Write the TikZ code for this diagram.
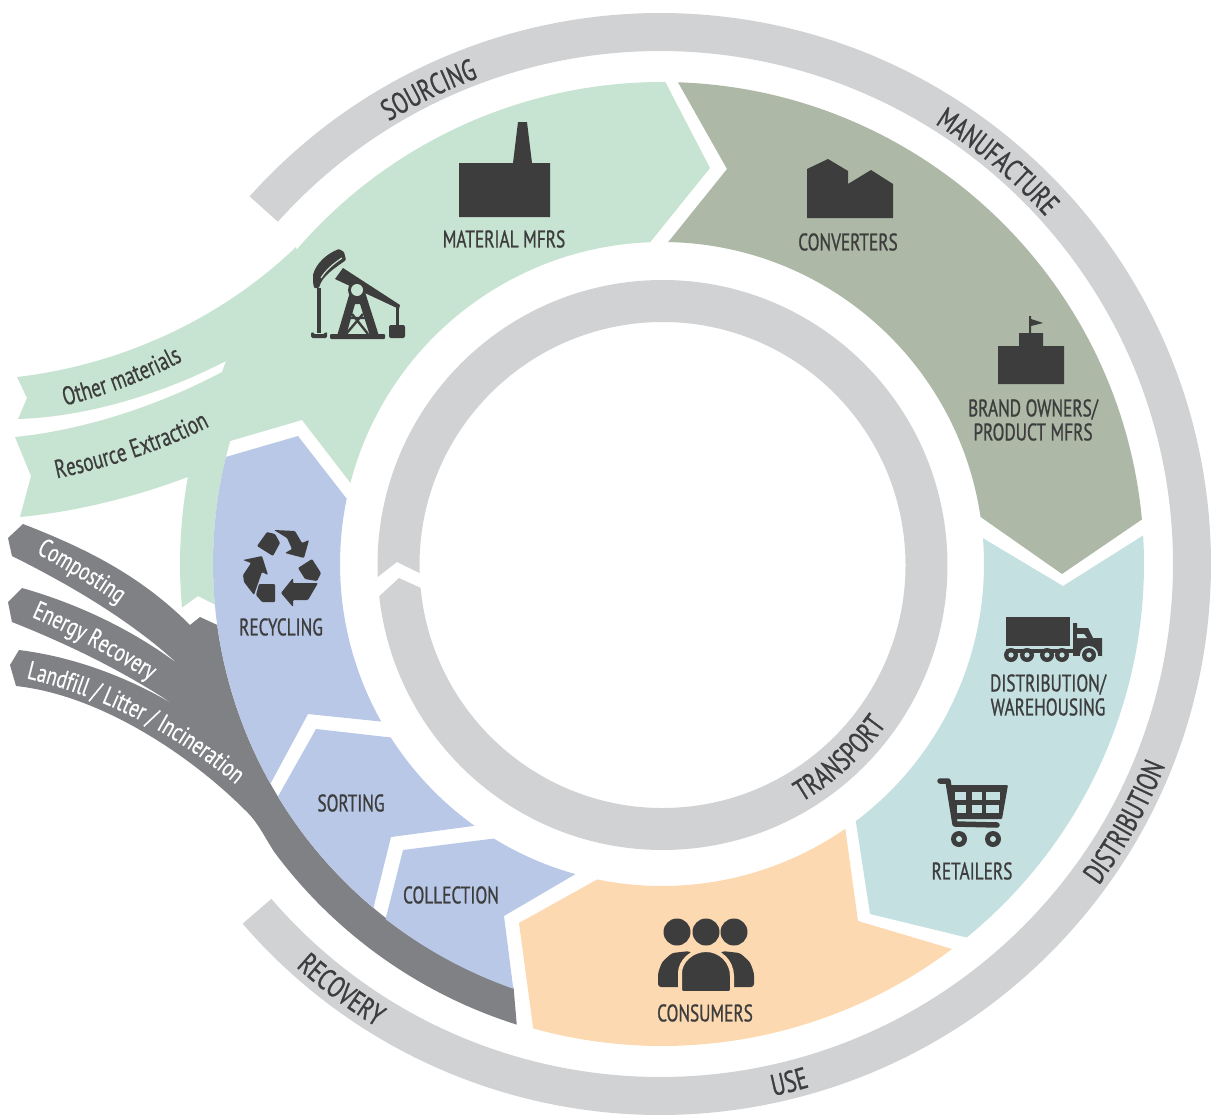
\documentclass[tikz,border=0pt]{standalone}
\usepackage{fontspec}
\usetikzlibrary{decorations.text}
\newfontfamily\dinf[FakeStretch=0.72,FakeBold=0.9]{PT Sans}
\newfontfamily\dint[FakeStretch=0.73,FakeBold=0.5]{PT Sans}
\newcommand{\lblfont}{\dinf\fontsize{24}{24}\selectfont}
\newcommand{\ringfont}{\dinf\fontsize{30}{30}\selectfont\color{ink}}
\newcommand{\tailfont}{\dint\fontsize{26}{26}\selectfont}
\def\cx{662}\def\cy{564}
\def\ARC#1#2#3{({\cx+#3*cos(#1)},{\cy-#3*sin(#1)}) arc[start angle=#1,end angle=#2,radius=#3pt]}
\def\LARC#1#2#3{-- ({\cx+#3*cos(#1)},{\cy-#3*sin(#1)}) arc[start angle=#1,end angle=#2,radius=#3pt]}
\definecolor{ink}{HTML}{3D3D3D}
\definecolor{lgreen}{HTML}{C7E3D2}
\definecolor{dgreen}{HTML}{ADB9A6}
\definecolor{teal2}{HTML}{C5E0E0}
\definecolor{peach}{HTML}{FDD9B1}
\definecolor{blue2}{HTML}{B8C8E6}
\definecolor{band}{HTML}{808184}
\definecolor{ring}{HTML}{D1D2D4}
\tikzset{
  lbl/.style={font=\lblfont,text=ink,inner sep=0pt,align=center},
  ico/.style={fill=ink,draw=none},
  curved/.style={decorate,decoration={text along path,text align=center,text={#1}}}
}
\begin{document}
\begin{tikzpicture}[x=1pt,y=-1pt]
\useasboundingbox (0,0) rectangle (1211,1116);
% rings
\begin{scope}
\def\cx{660}
\fill[ring] \ARC{138.15}{-139.25}{551} \LARC{-139.25}{138.15}{513} -- cycle;
\end{scope}
\begin{scope}
\def\cx{662.5}\def\cy{565}
\fill[ring] \ARC{182.4}{-173.7}{285} -- (399,578) \LARC{-174.6}{181.9}{243} -- (397,562) -- cycle;
\end{scope}
% light green
\fill[lgreen] \ARC{139.3}{89.6}{482} -- (710,168) \LARC{92.1}{165.4}{322} -- (302,420) \LARC{164.1}{185.2}{449} -- (198,596) \LARC{185.2}{169.6}{482}
  .. controls (135,497) and (75,512) .. (20,517) -- (31,476) -- (15,437)
  .. controls (85,430) and (160,405) .. (222,372) -- (226,361)
  .. controls (160,395) and (85,417) .. (18,419) -- (27,398) -- (17,377)
  .. controls (120,365) and (220,320) .. (296,247) -- cycle;
% dark green
\fill[dgreen] \ARC{88.1}{5.3}{482} -- (1062,574) \LARC{8.4}{88.9}{322} -- (727,169) -- cycle;
% teal
\fill[teal2] \ARC{3.4}{-50.8}{482} -- (870,914) \LARC{-53}{4.6}{322} -- (1063,586) -- cycle;
% peach
\fill[peach] \ARC{-53}{-105.5}{482} -- (519,923) \LARC{-101.6}{-55.3}{322} -- (858,921) -- cycle;
% grey band
\fill[band] \ARC{187.8}{250.7}{449} \LARC{252.5}{216.6}{483}
  .. controls (265,838) and (258,822) .. (245,810)
  .. controls (190,755) and (100,695) .. (16,686) -- (10,665) -- (19,650)
  .. controls (75,657) and (130,678) .. (176,706)
  .. controls (125,672) and (70,645) .. (12,622) -- (8,602) -- (22,588)
  .. controls (75,603) and (130,628) .. (178,664)
  .. controls (130,620) and (70,585) .. (12,556) -- (8,538) -- (23,524)
  .. controls (85,548) and (140,575) .. (190,625) -- (200,617) -- cycle;
% blue
\fill[blue2] (298,436) \LARC{166.2}{209.3}{449} -- (308,714) \LARC{209.3}{168.3}{322} -- cycle;
\fill[blue2] (316,729) \LARC{211.2}{230}{449} -- (391,837) \LARC{234.4}{212.6}{322} -- cycle;
\fill[blue2] (403,850) \LARC{232.1}{250.7}{450} -- (504,916) \LARC{254.4}{238.5}{322} -- cycle;
% factory
\fill[ico] (459,163) -- (513,163) -- (518,122) -- (527,122) -- (532,163) -- (550,163) -- (550,217) -- (459,217) -- cycle;
% converters
\fill[ico] (807,218) -- (807,169) -- (828,159) -- (848,171) -- (848,184) -- (871,170) -- (893,184) -- (893,218) -- cycle;
% brand owners
\fill[ico] (998,384) -- (998,346) -- (1019,346) -- (1019,333) -- (1029,333) -- (1029,316) -- (1031,316) -- (1031,319) -- (1043,323) -- (1031,326) -- (1031,333) -- (1043,333) -- (1043,346) -- (1064,346) -- (1064,384) -- cycle;
% truck
\fill[ico] (1006,617) rectangle (1070,646);
\fill[ico] (1006,649) rectangle (1075,653);
\fill[ico] (1073,651) -- (1073,623) -- (1077,623) -- (1077,628) -- (1088,628) -- (1093,638) -- (1102,638) -- (1102,657) -- (1073,657) -- cycle;
\fill[teal2] (1077,634) -- (1084,634) -- (1087,638) -- (1077,638) -- cycle;
\fill[teal2] (1089,655) circle[radius=9pt];
\fill[teal2] (1073,656) rectangle (1102,662);
\foreach \wx in {1011,1027,1047,1062,1089}{
  \fill[ico] (\wx,655) circle[radius=7pt];
  \fill[teal2] (\wx,655) circle[radius=2.6pt];
}
% cart
\draw[ink,line width=5.5pt,line cap=round,line join=round] (940,781) -- (948,781) -- (955,824) -- (997,825);
\fill[ico,rounded corners=1pt] (949,785) -- (1008,785) -- (1002,819) -- (953,819) -- cycle;
\fill[teal2] (955,792) rectangle (966,800);
\fill[teal2] (972,792) rectangle (982,800);
\fill[teal2] (986,792) rectangle (1000,800);
\fill[teal2] (957,805) rectangle (966,813);
\fill[teal2] (972,805) rectangle (982,813);
\fill[teal2] (986,805) rectangle (999,813);
\foreach \wx in {959,993}{
  \fill[ico] (\wx,839) circle[radius=8pt];
  \fill[teal2] (\wx,839) circle[radius=3pt];
}
% consumers
\foreach \hx in {677,706,734}{\fill[ico] (\hx,932) circle[radius=13.5pt];}
\fill[ico,rounded corners=3pt] (658,987) -- (658,973) -- (662,962) -- (672,953) -- (690,951) -- (700,965) -- (700,987) -- cycle;
\fill[ico,rounded corners=3pt] (754,987) -- (754,973) -- (750,962) -- (740,953) -- (722,951) -- (712,965) -- (712,987) -- cycle;
\filldraw[ink,draw=peach,line width=4pt] (680,976) arc[start angle=180,end angle=0,radius=26pt] [rounded corners=3pt] -- (732,993) -- (680,993) -- cycle;
% pumpjack
\fill[ico] (343,268) -- (400,305) -- (399,309) -- (335,279) -- cycle;
\fill[ico,rounded corners=1pt] (313,282) -- (313,275) .. controls (316,264) and (326,254) .. (339,249) -- (344,252) -- (346,260) .. controls (335,268) and (322,276) .. (319,288) -- (314,288) -- cycle;
\draw[lgreen,line width=1.2pt] (321,278) .. controls (326,270) and (333,264) .. (342,258);
\fill[ico] (317,288) rectangle (321,333);
\fill[ico,rounded corners=1.5pt] (311,332) -- (313,332) -- (313,334) -- (325,334) -- (325,332) -- (327,332) -- (327,338) -- (311,338) -- cycle;
\fill[ico,rounded corners=1pt] (330,334) rectangle (385,339);
\fill[ico] (350,292) -- (365,292) -- (379,336) -- (370,336) -- (360,304) -- (355,304) -- (346,336) -- (337,336) -- cycle;
\draw[ink,line width=2.4pt] (352,314) -- (368,334) (363,314) -- (346,334) (350,318) -- (366,318);
\fill[ico] (357,290) circle[radius=9pt];
\fill[lgreen] (357,290) circle[radius=6pt];
\draw[ink,line width=3pt] (397,307) -- (397,326);
\fill[ico,rounded corners=2pt] (389,325) rectangle (405,338);
% recycle
\begin{scope}[rounded corners=1pt]
\fill[ico] (274,530) -- (295,531) -- (302,543) -- (309,540) -- (304,558) -- (285,553) -- (292,549) -- (287,538) -- cycle;
\fill[ico] (267,532) -- (275,534) -- (280,543) -- (273,556) -- (257,546) -- cycle;
\fill[ico] (243,560) -- (262,556) -- (268,575) -- (262,572) -- (254,595) -- (244,582) -- (243,575) -- (251,563) -- cycle;
\fill[ico] (259,584) -- (275,584) -- (275,602) -- (262,602) -- (256,595) -- cycle;
\fill[ico] (312,559) -- (321,573) -- (317,581) -- (305,579) -- (298,568) -- cycle;
\fill[ico] (318,583) -- (308,600) -- (293,600) -- (293,607) -- (281,593) -- (293,578) -- (293,583) -- cycle;
\end{scope}
% labels
\node[lbl] (matl) at (504,239) {MATERIAL MFRS};
\node[lbl] (conv) at (848,242) {CONVERTERS};
\node[lbl] (brand) at (1033,420) {BRAND OWNERS/\\[0pt]PRODUCT MFRS};
\node[lbl] (dist) at (1048,695) {DISTRIBUTION/\\[0pt]WAREHOUSING};
\node[lbl] (ret) at (972,871) {RETAILERS};
\node[lbl] (cons) at (705,1013) {CONSUMERS};
\node[lbl] (coll) at (451,895) {COLLECTION};
\node[lbl] (sort) at (351,803) {SORTING};
\node[lbl] (recy) at (281,627) {RECYCLING};
% ring labels
\begin{scope}
\def\cx{660}
\path[curved={|\ringfont|SOURCING}] \ARC{146}{86}{519};
\path[curved={|\ringfont|MANUFACTURE}] \ARC{85}{15}{519};
\path[curved={|\ringfont|DISTRIBUTION}] \ARC{-64}{6}{544};
\path[curved={|\ringfont|USE}] \ARC{-105.5}{-46.5}{544};
\path[curved={|\ringfont|RECOVERY}] \ARC{204.7}{261.7}{543};
\end{scope}
\begin{scope}
\def\cx{662.5}\def\cy{565}
\path[curved={|\ringfont|TRANSPORT}] \ARC{-100}{5}{275};
\end{scope}
% tail labels
\path[curved={|\tailfont\color{ink}|Other materials}] (48,410) .. controls (98,398) and (148,382) .. (198,352);
\path[curved={|\tailfont\color{ink}|Resource Extraction}] (40,482) .. controls (90,472) and (160,455) .. (225,418);
\path[curved={|\tailfont\color{white}|Composting}] (27,548) .. controls (67,570) and (97,588) .. (127,610);
\path[curved={|\tailfont\color{white}|Energy Recovery}] (15,610) .. controls (65,630) and (115,658) .. (165,690);
\path[curved={|\tailfont\color{white}|Landfill / Litter / Incineration}] (12,675) .. controls (87,691) and (167,724) .. (247,794);
\end{tikzpicture}
\end{document}
